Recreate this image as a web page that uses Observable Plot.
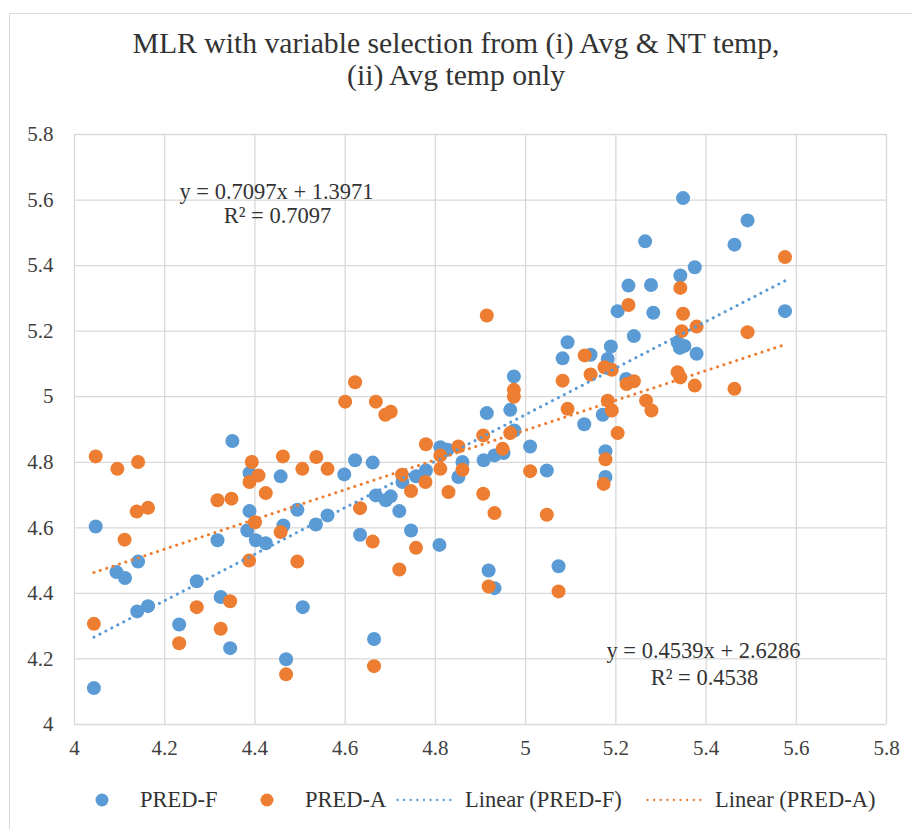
<!DOCTYPE html>
<html>
<head>
<meta charset="utf-8">
<script src="https://cdn.jsdelivr.net/npm/d3@7"></script>
<script src="https://cdn.jsdelivr.net/npm/@observablehq/plot@0.6"></script>
<style>
  html, body { margin: 0; padding: 0; background: #fff; }
  #wrap { position: relative; width: 912px; height: 829px; overflow: hidden; font-family: 'Liberation Serif', serif; }
  #border { position: absolute; left: 9px; top: 13px; width: 1000px; height: 900px; border: 1px solid #d9d9d9; box-sizing: border-box; }
  #title { position: absolute; left: 0; top: 27px; width: 912px; text-align: center; font-family: 'Liberation Serif', serif; font-size: 29.7px; line-height: 32px; color: #333; }
  #chart { position: absolute; left: 0; top: 100px; }
  #legend { position: absolute; left: 0; top: 784px; width: 912px; height: 32px; font-family: 'Liberation Serif', serif; font-size: 22.5px; color: #333; }
  #legend .mark { position: absolute; top: 0; height: 32px; display: flex; align-items: center; }
  #legend .label { position: absolute; top: 0; line-height: 32px; white-space: nowrap; font-family: 'Liberation Serif', serif; }
</style>
</head>
<body>
<div id="wrap">
  <div id="border"></div>
  <div id="title">MLR with variable selection from (i) Avg &amp; NT temp,<br>(ii) Avg temp only</div>
  <div id="chart"></div>
  <div id="legend"></div>
</div>
<script>
// ---- data ----
const seriesNames = ["PRED-F", "PRED-A"];
const seriesColors = ["#5B9BD5", "#ED7D31"];
const trendNames = ["Linear (PRED-F)", "Linear (PRED-A)"];
const slopes = [0.7097, 0.4539];
const intercepts = [1.3971, 2.6286];
const rSquared = [0.7097, 0.4538];

const xTicks = [4, 4.2, 4.4, 4.6, 4.8, 5, 5.2, 5.4, 5.6, 5.8];
const yTicks = [4, 4.2, 4.4, 4.6, 4.8, 5, 5.2, 5.4, 5.6, 5.8];
const xTickLabels = ["4", "4.2", "4.4", "4.6", "4.8", "5", "5.2", "5.4", "5.6", "5.8"];
const yTickLabels = ["4", "4.2", "4.4", "4.6", "4.8", "5", "5.2", "5.4", "5.6", "5.8"];

// PRED-F
const xF = [4.350, 4.047, 4.388, 4.457, 4.622, 4.598, 4.388, 4.494, 4.463, 4.535,
            4.561, 4.633, 4.317, 4.383, 4.402, 4.424, 4.141, 4.093, 4.112, 4.271,
            4.139, 4.163, 4.324, 4.232, 4.345, 4.506, 4.469, 4.043, 4.661, 4.668,
            4.690, 4.701, 4.720, 4.727, 4.757, 4.779, 4.811, 4.827, 4.860, 4.851,
            4.907, 4.931, 4.951, 4.975, 5.010, 5.047, 5.130, 5.177, 5.177, 4.746,
            4.809, 4.918, 4.931, 5.073, 4.664, 4.974, 4.914, 4.966, 5.082, 5.093,
            5.144, 5.171, 5.182, 5.189, 5.223, 5.240, 5.204, 5.228, 5.265, 5.349,
            5.492, 5.463, 5.375, 5.343, 5.278, 5.283, 5.575, 5.337, 5.342, 5.352,
            5.379];
const yF = [4.865, 4.604, 4.767, 4.757, 4.806, 4.763, 4.651, 4.655, 4.607, 4.610,
            4.638, 4.579, 4.562, 4.592, 4.562, 4.553, 4.497, 4.465, 4.447, 4.437,
            4.345, 4.361, 4.389, 4.305, 4.233, 4.358, 4.199, 4.111, 4.799, 4.699,
            4.684, 4.696, 4.651, 4.740, 4.757, 4.775, 4.846, 4.838, 4.801, 4.755,
            4.806, 4.821, 4.828, 4.897, 4.848, 4.775, 4.916, 4.834, 4.755, 4.592,
            4.548, 4.470, 4.416, 4.483, 4.261, 5.062, 4.950, 4.960, 5.117, 5.166,
            5.128, 4.945, 5.115, 5.153, 5.054, 5.185, 5.261, 5.339, 5.474, 5.606,
            5.538, 5.464, 5.395, 5.370, 5.341, 5.256, 5.261, 5.166, 5.149, 5.155,
            5.131];

// PRED-A
const xA = [4.047, 4.095, 4.141, 4.138, 4.163, 4.111, 4.043, 4.317, 4.348, 4.393,
            4.388, 4.408, 4.424, 4.462, 4.505, 4.536, 4.561, 4.633, 4.400, 4.457,
            4.387, 4.494, 4.271, 4.345, 4.324, 4.232, 4.469, 4.779, 4.811, 4.851,
            4.906, 4.966, 4.949, 4.811, 4.860, 4.726, 4.778, 4.746, 4.829, 4.906,
            4.931, 5.010, 5.047, 4.661, 4.757, 4.720, 4.918, 5.073, 4.664, 5.204,
            5.177, 5.173, 4.914, 4.622, 4.600, 4.668, 4.689, 4.701, 4.974, 4.974,
            5.082, 5.093, 5.131, 5.144, 5.175, 5.191, 5.182, 5.191, 5.228, 5.224,
            5.240, 5.575, 5.343, 5.349, 5.346, 5.379, 5.492, 5.337, 5.343, 5.375,
            5.463, 5.267, 5.279];
const yA = [4.818, 4.780, 4.801, 4.650, 4.661, 4.564, 4.307, 4.684, 4.689, 4.801,
            4.740, 4.760, 4.706, 4.818, 4.780, 4.816, 4.780, 4.660, 4.617, 4.587,
            4.500, 4.497, 4.358, 4.376, 4.292, 4.248, 4.153, 4.855, 4.821, 4.848,
            4.882, 4.889, 4.841, 4.780, 4.777, 4.762, 4.740, 4.712, 4.709, 4.704,
            4.645, 4.773, 4.640, 4.558, 4.539, 4.473, 4.421, 4.406, 4.178, 4.889,
            4.809, 4.734, 5.248, 5.044, 4.985, 4.985, 4.945, 4.954, 5.021, 5.000,
            5.049, 4.963, 5.126, 5.068, 5.090, 5.082, 4.988, 4.958, 5.280, 5.039,
            5.047, 5.426, 5.332, 5.253, 5.200, 5.214, 5.197, 5.075, 5.059, 5.034,
            5.024, 4.988, 4.958];

// ---- build tables ----
const seriesX = [xF, xA];
const seriesY = [yF, yA];
const points = seriesNames.map((name, i) =>
  seriesX[i].map((x, j) => ({series: name, x, y: seriesY[i][j]})));
const trends = seriesNames.map((name, i) =>
  d3.extent(seriesX[i]).map(x => ({series: name, x, y: slopes[i] * x + intercepts[i]})));
const eqText = seriesNames.map((n, i) => [`y = ${slopes[i]}x + ${intercepts[i]}`, `R² = ${rSquared[i]}`]);

const grid = "#d9d9d9";
const txt = "#404040";
const serif = "'Liberation Serif', serif";
const fmtX = d => xTickLabels[xTicks.findIndex(t => Math.abs(t - d) < 1e-9)];
const fmtY = d => yTickLabels[yTicks.findIndex(t => Math.abs(t - d) < 1e-9)];

const chart = Plot.plot({
  width: 912,
  height: 670,
  marginLeft: 74,
  marginRight: 26,
  marginTop: 34,
  marginBottom: 46,
  x: {domain: [4, 5.8]},
  y: {domain: [4, 5.8]},
  style: {fontFamily: serif, fontSize: "21px", color: txt, background: "transparent"},
  marks: [
    Plot.gridX(xTicks, {stroke: grid, strokeOpacity: 1, strokeWidth: 1.3}),
    Plot.gridY(yTicks, {stroke: grid, strokeOpacity: 1, strokeWidth: 1.3}),
    Plot.axisX(xTicks, {tickSize: 0, tickPadding: 16, tickFormat: fmtX, fontSize: 21, fontFamily: serif, fontVariant: "normal", fill: txt, label: null}),
    Plot.axisY(yTicks, {tickSize: 0, tickPadding: 21, tickFormat: fmtY, fontSize: 21, fontFamily: serif, fontVariant: "normal", fill: txt, label: null}),
    ...points.map((pts, i) => Plot.dot(pts, {x: "x", y: "y", r: 7, fill: seriesColors[i], stroke: "none"})),
    ...trends.map((t, i) => Plot.line(t, {x: "x", y: "y", stroke: seriesColors[i], strokeWidth: 3,
        strokeDasharray: "0.1 6.6", strokeLinecap: "round"})),
    Plot.text([eqText[0][0]], {frameAnchor: "top-left", dx: 202, dy: 57, text: d => d, textAnchor: "middle", lineAnchor: "middle", fontSize: 22.5, fontFamily: serif, fill: "#333"}),
    Plot.text([eqText[0][1]], {frameAnchor: "top-left", dx: 203, dy: 81, text: d => d, textAnchor: "middle", lineAnchor: "middle", fontSize: 22.5, fontFamily: serif, fill: "#333"}),
    Plot.text([eqText[1][0]], {frameAnchor: "top-left", dx: 629, dy: 516, text: d => d, textAnchor: "middle", lineAnchor: "middle", fontSize: 22.5, fontFamily: serif, fill: "#333"}),
    Plot.text([eqText[1][1]], {frameAnchor: "top-left", dx: 630, dy: 543, text: d => d, textAnchor: "middle", lineAnchor: "middle", fontSize: 22.5, fontFamily: serif, fill: "#333"})
  ]
});
document.getElementById("chart").appendChild(chart);

// ---- legend ----
const legend = document.getElementById("legend");
const ns = "http://www.w3.org/2000/svg";
const legendItems = [
  {kind: "dot", color: seriesColors[0], label: seriesNames[0], markLeft: 95, textLeft: 140},
  {kind: "dot", color: seriesColors[1], label: seriesNames[1], markLeft: 260, textLeft: 305},
  {kind: "line", color: seriesColors[0], label: trendNames[0], markLeft: 396, textLeft: 465},
  {kind: "line", color: seriesColors[1], label: trendNames[1], markLeft: 646, textLeft: 715}
];
legendItems.forEach(it => {
  const mark = document.createElement("div");
  mark.className = "mark";
  mark.style.left = it.markLeft + "px";
  const svg = document.createElementNS(ns, "svg");
  if (it.kind === "dot") {
    svg.setAttribute("width", 14); svg.setAttribute("height", 14);
    const c = document.createElementNS(ns, "circle");
    c.setAttribute("cx", 7); c.setAttribute("cy", 7); c.setAttribute("r", 6.5);
    c.setAttribute("fill", it.color);
    svg.appendChild(c);
  } else {
    svg.setAttribute("width", 62); svg.setAttribute("height", 6);
    const l = document.createElementNS(ns, "line");
    l.setAttribute("x1", 1.5); l.setAttribute("x2", 60.5); l.setAttribute("y1", 3); l.setAttribute("y2", 3);
    l.setAttribute("stroke", it.color); l.setAttribute("stroke-width", 2.3);
    l.setAttribute("stroke-dasharray", "0.1 6.5"); l.setAttribute("stroke-linecap", "round");
    svg.appendChild(l);
  }
  mark.appendChild(svg);
  legend.appendChild(mark);
  const span = document.createElement("div");
  span.className = "label";
  span.style.left = it.textLeft + "px";
  span.textContent = it.label;
  legend.appendChild(span);
});
</script>
</body>
</html>
